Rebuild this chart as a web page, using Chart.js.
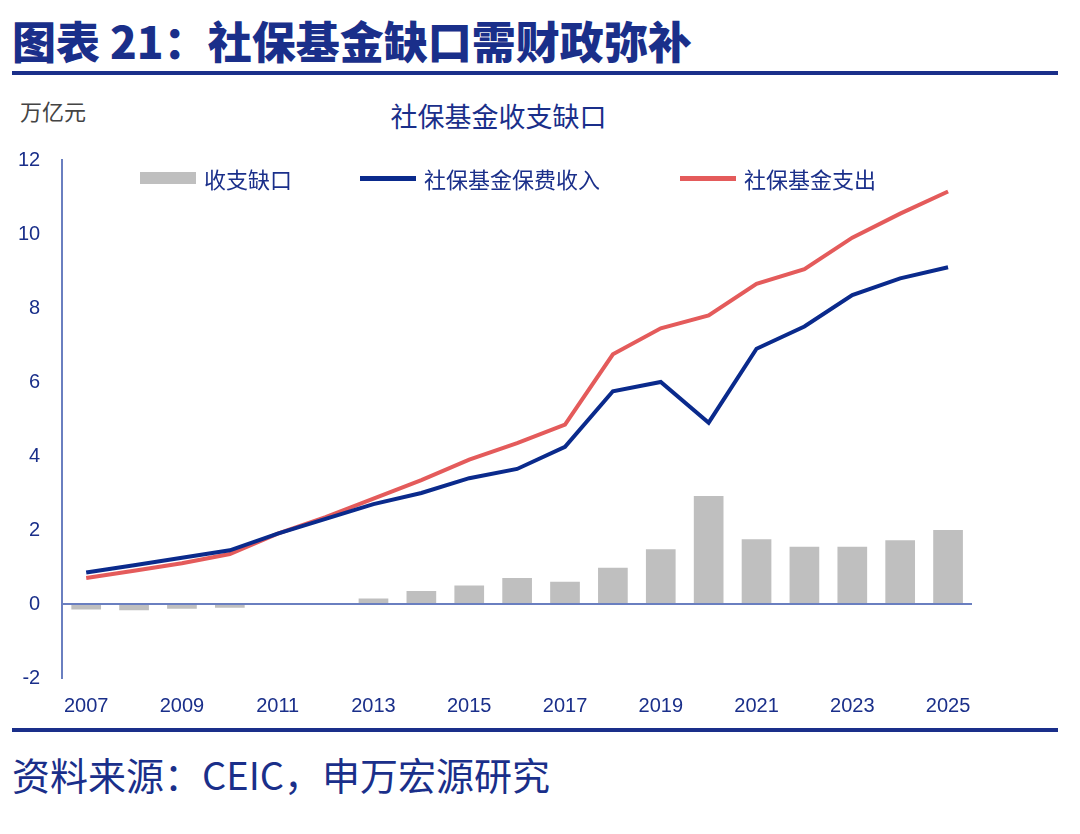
<!DOCTYPE html>
<html><head><meta charset="utf-8">
<script src="https://cdn.jsdelivr.net/npm/chart.js@4/dist/chart.umd.min.js"></script>
<style>
body{margin:0;width:1080px;height:834px;background:#fff;font-family:"Noto Sans CJK SC","Noto Sans",sans-serif;position:relative;overflow:hidden}
#t{position:absolute;left:12px;top:12px;font-size:44px;font-weight:900;color:#1a2f8a;line-height:56px}
#l1{position:absolute;left:12px;top:71px;width:1046px;height:4px;background:#1a2f8a}
#l2{position:absolute;left:12px;top:728px;width:1046px;height:4px;background:#1a2f8a}
#src{position:absolute;left:12px;top:746px;font-size:38px;color:#1a2f8a}
#unit{position:absolute;left:20px;top:94px;font-size:22px;color:#444}
#sub{position:absolute;left:0;width:997px;text-align:center;top:96px;font-size:27px;color:#1a2f8a}
#leg{position:absolute;top:162px;left:140px;font-size:22px;color:#1a2f8a;display:flex;gap:0}
#leg span{display:inline-flex;align-items:center}
.sw{display:inline-block;margin-right:8px}
#wrap{position:absolute;left:4px;top:134px;width:996px;height:600px}
</style></head><body>
<div id="t">图表 21：社保基金缺口需财政弥补</div>
<div id="l1"></div>
<div id="unit">万亿元</div>
<div id="sub">社保基金收支缺口</div>
<div id="wrap"><canvas id="c"></canvas></div>
<div id="leg">
<span style="width:220px"><i class="sw" style="width:56px;height:12px;background:#bfbfbf"></i>收支缺口</span>
<span style="width:320px"><i class="sw" style="width:56px;height:5px;background:#0a2a8c"></i>社保基金保费收入</span>
<span><i class="sw" style="width:56px;height:5px;background:#e45b5b"></i>社保基金支出</span>
</div>
<div id="l2"></div>
<div id="src">资料来源：CEIC，申万宏源研究</div>
<script>
const years=["2007","2008","2009","2010","2011","2012","2013","2014","2015","2016","2017","2018","2019","2020","2021","2022","2023","2024","2025"];
const gap=[-0.15,-0.17,-0.13,-0.1,-0.03,0,0.15,0.35,0.5,0.7,0.6,0.98,1.48,2.92,1.75,1.55,1.55,1.72,2.0];
const income=[0.85,1.05,1.25,1.45,1.9,2.3,2.7,3.0,3.4,3.65,4.25,5.75,6.0,4.9,6.9,7.5,8.35,8.8,9.1];
const expense=[0.7,0.9,1.1,1.35,1.9,2.35,2.85,3.35,3.9,4.35,4.85,6.75,7.45,7.8,8.65,9.05,9.9,10.55,11.15];
const blue='#1a2f8a';
new Chart(document.getElementById('c'),{
data:{labels:years,datasets:[
{type:'line',data:expense,borderColor:'#e45b5b',borderWidth:4,pointRadius:0,tension:0,order:1},
{type:'line',data:income,borderColor:'#0a2a8c',borderWidth:4,pointRadius:0,tension:0,order:0},
{type:'bar',data:gap,backgroundColor:'#bfbfbf',barPercentage:0.62,categoryPercentage:1,order:2}
]},
options:{responsive:true,maintainAspectRatio:false,animation:false,
layout:{padding:{left:0,right:28,top:17,bottom:0}},
plugins:{legend:{display:false},tooltip:{enabled:false}},
scales:{
x:{offset:true,grid:{display:false,drawTicks:false},border:{display:false},
 ticks:{autoSkip:false,maxRotation:0,color:blue,font:{size:20,family:'Liberation Sans'},padding:16,callback:(v,i)=>i%2==0?years[i]:''}},
y:{min:-2,max:12,grid:{display:false},border:{color:'#6a7fc0',width:2},
 ticks:{stepSize:2,color:blue,font:{size:20,family:'Liberation Sans'},padding:14}}
}},
plugins:[{id:'zero',afterDatasetsDraw(c){const g=c.ctx,y=c.scales.y.getPixelForValue(0);g.save();g.strokeStyle='#6a7fc0';g.lineWidth=2;g.beginPath();g.moveTo(c.chartArea.left,y);g.lineTo(c.chartArea.right,y);g.stroke();g.restore();}}]
});
</script>
</body></html>
